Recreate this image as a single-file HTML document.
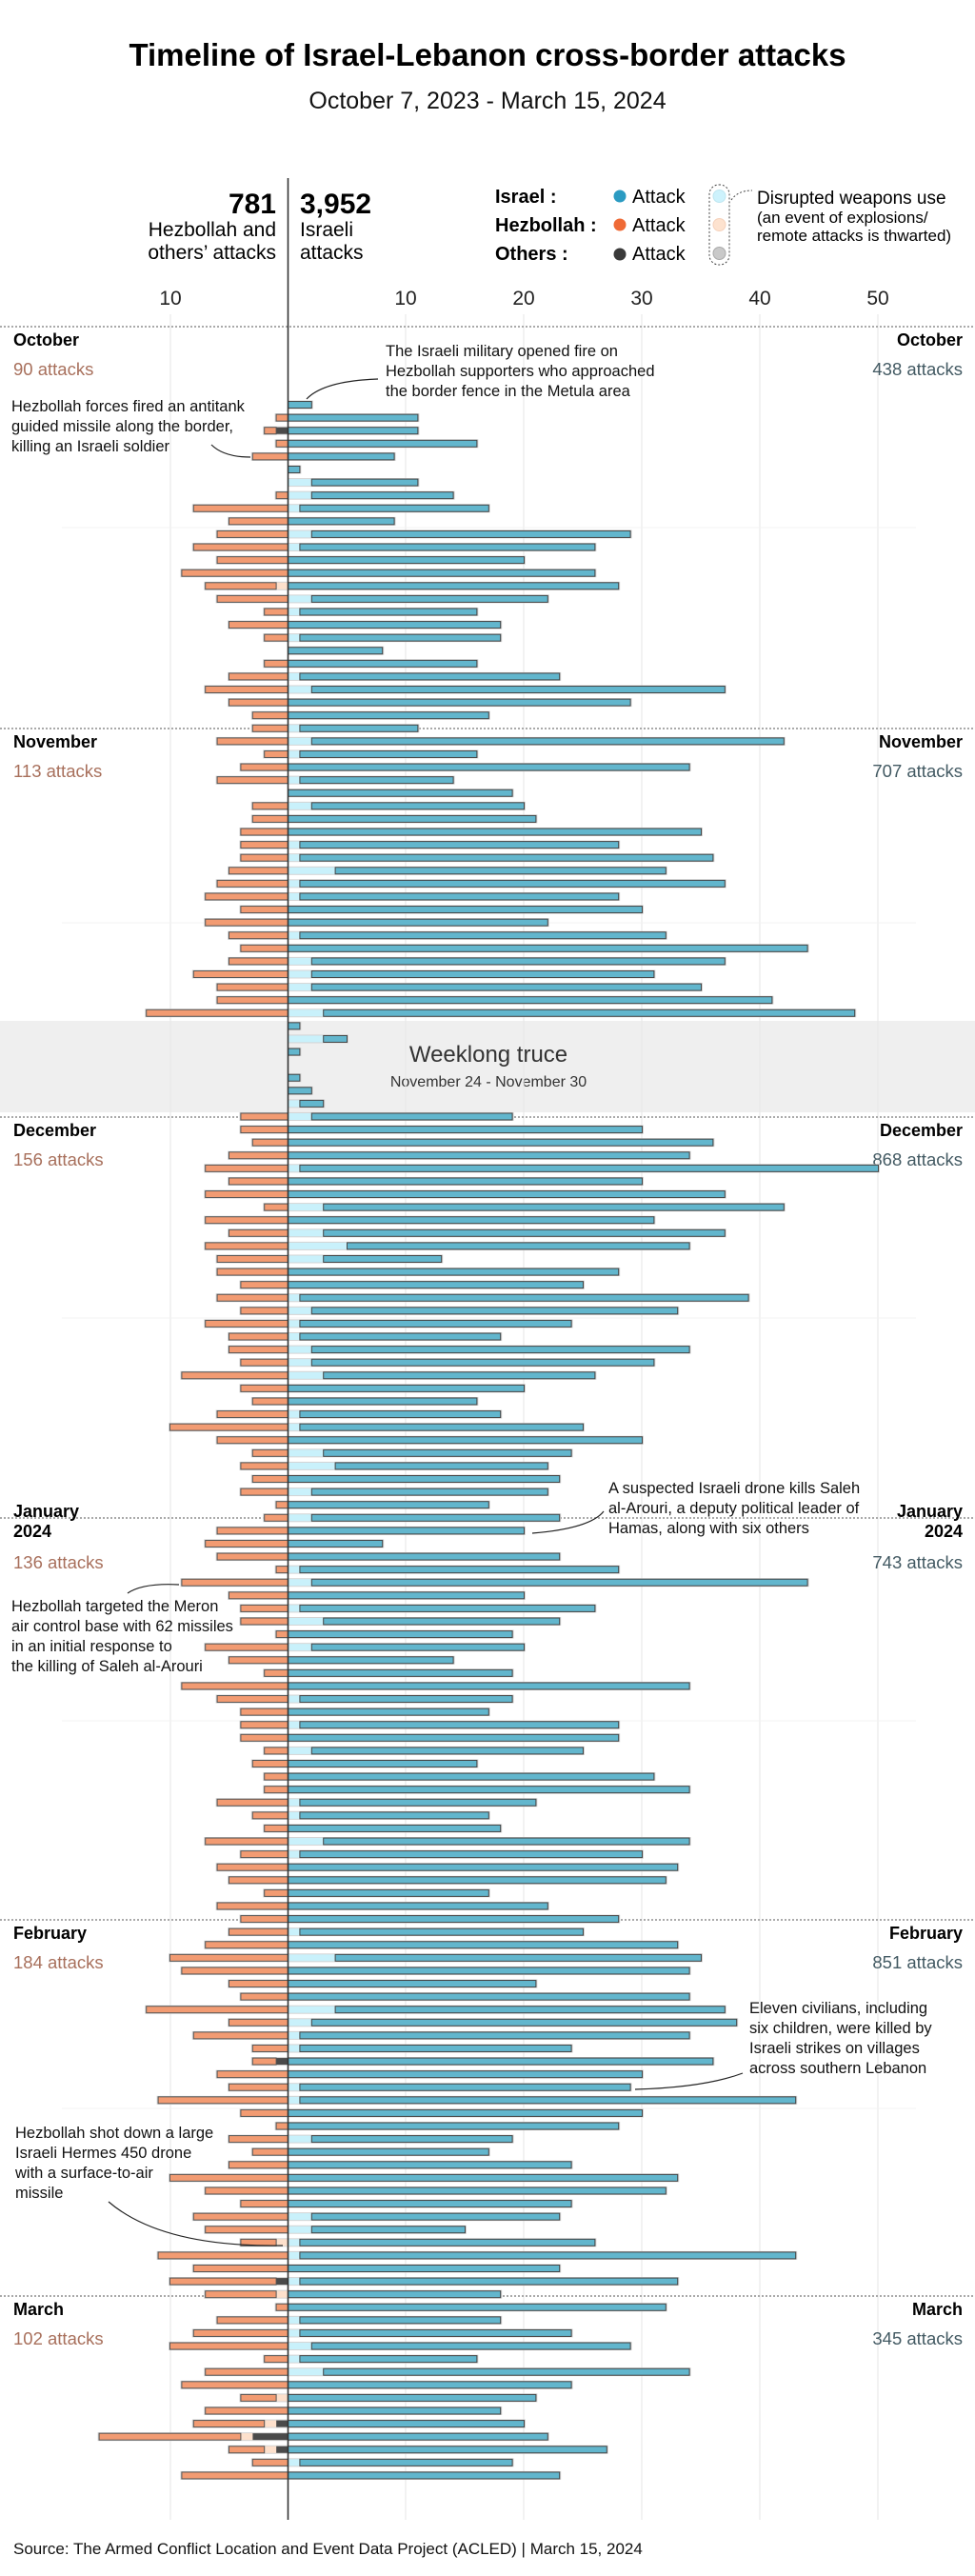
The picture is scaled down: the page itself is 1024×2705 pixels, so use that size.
<!DOCTYPE html>
<html><head><meta charset="utf-8">
<style>
html,body{margin:0;padding:0;background:#fff;}
svg text{font-family:"Liberation Sans",sans-serif;}
</style></head>
<body>
<svg id="c" width="1024" height="2700" viewBox="0 0 1024 2700" xmlns="http://www.w3.org/2000/svg">
<rect width="1024" height="2700" fill="#fff"/>
<text x="512" y="69" text-anchor="middle" font-size="33" font-weight="bold" fill="#000">Timeline of Israel-Lebanon cross-border attacks</text>
<text x="512" y="114" text-anchor="middle" font-size="25" fill="#111">October 7, 2023 - March 15, 2024</text>

<rect x="0" y="1072" width="1024" height="96" fill="#efefef"/>
<text x="513" y="1115" text-anchor="middle" font-size="24" fill="#333">Weeklong truce</text>
<text x="513" y="1141" text-anchor="middle" font-size="16" fill="#333">November 24 - November 30</text>

<g id="grid" stroke="#e8e8e8" stroke-width="1.2">
<line x1="179" y1="330" x2="179" y2="2646"/>
<line x1="426" y1="330" x2="426" y2="2646"/>
<line x1="550" y1="330" x2="550" y2="2646"/>
<line x1="674" y1="330" x2="674" y2="2646"/>
<line x1="798" y1="330" x2="798" y2="2646"/>
<line x1="922" y1="330" x2="922" y2="2646"/>
</g>
<g stroke="#f3f3f3" stroke-width="1">
<line x1="65" y1="554" x2="962" y2="554"/>
<line x1="65" y1="969" x2="962" y2="969"/>
<line x1="65" y1="1384" x2="962" y2="1384"/>
<line x1="65" y1="1807" x2="962" y2="1807"/>
<line x1="65" y1="2214" x2="962" y2="2214"/>
</g>

<g font-size="21" fill="#222" text-anchor="middle">
<text x="179" y="320">10</text>
<text x="426" y="320">10</text>
<text x="550" y="320">20</text>
<text x="674" y="320">30</text>
<text x="798" y="320">40</text>
<text x="922" y="320">50</text>
</g>

<text x="290" y="224" text-anchor="end" font-size="30" font-weight="bold" fill="#000">781</text>
<text x="290" y="248" text-anchor="end" font-size="21" fill="#000">Hezbollah and</text>
<text x="290" y="272" text-anchor="end" font-size="21" fill="#000">others’ attacks</text>
<text x="315" y="224" font-size="30" font-weight="bold" fill="#000">3,952</text>
<text x="315" y="248" font-size="21" fill="#000">Israeli</text>
<text x="315" y="272" font-size="21" fill="#000">attacks</text>

<g fill="#000">
<text x="520" y="213" font-size="20" font-weight="bold">Israel :</text>
<text x="520" y="243" font-size="20" font-weight="bold">Hezbollah :</text>
<text x="520" y="273" font-size="20" font-weight="bold">Others :</text>
<circle cx="651" cy="206" r="6.5" fill="#2b9bc2"/>
<circle cx="651" cy="236" r="6.5" fill="#ef6a36"/>
<circle cx="651" cy="267" r="6.5" fill="#3a3a3a"/>
<text x="664" y="213" font-size="20">Attack</text>
<text x="664" y="243" font-size="20">Attack</text>
<text x="664" y="273" font-size="20">Attack</text>
<rect x="745" y="194" width="21" height="84" rx="10" fill="none" stroke="#444" stroke-dasharray="2,2"/>
<circle cx="755.5" cy="206" r="6.5" fill="#cdf2fc" stroke="#bfe6f0"/>
<circle cx="755.5" cy="236" r="6.5" fill="#fde2cf" stroke="#f5d2bc"/>
<circle cx="755.5" cy="266" r="6.5" fill="#c9c9c9" stroke="#aaa"/>
<path d="M768,210 Q775,200 790,200" fill="none" stroke="#444" stroke-dasharray="2,2"/>
<text x="795" y="214" font-size="19">Disrupted weapons use</text>
<text x="795" y="234" font-size="17">(an event of explosions/</text>
<text x="795" y="253" font-size="17">remote attacks is thwarted)</text>
</g>

<g id="months"></g>
<g id="bars"></g>

<line x1="302.5" y1="187" x2="302.5" y2="2646" stroke="#333" stroke-width="1.6"/>

<g font-size="16.5" fill="#111">
<text x="405" y="374">The Israeli military opened fire on</text>
<text x="405" y="395">Hezbollah supporters who approached</text>
<text x="405" y="416">the border fence in the Metula area</text>
<text x="12" y="432">Hezbollah forces fired an antitank</text>
<text x="12" y="453">guided missile along the border,</text>
<text x="12" y="474">killing an Israeli soldier</text>
<text x="639" y="1568">A suspected Israeli drone kills Saleh</text>
<text x="639" y="1589">al-Arouri, a deputy political leader of</text>
<text x="639" y="1610">Hamas, along with six others</text>
<text x="12" y="1692">Hezbollah targeted the Meron</text>
<text x="12" y="1713">air control base with 62 missiles</text>
<text x="12" y="1734">in an initial response to</text>
<text x="12" y="1755">the killing of Saleh al-Arouri</text>
<text x="787" y="2114">Eleven civilians, including</text>
<text x="787" y="2135">six children, were killed by</text>
<text x="787" y="2156">Israeli strikes on villages</text>
<text x="787" y="2177">across southern Lebanon</text>
<text x="16" y="2245">Hezbollah shot down a large</text>
<text x="16" y="2266">Israeli Hermes 450 drone</text>
<text x="16" y="2287">with a surface-to-air</text>
<text x="16" y="2308">missile</text>
</g>
<g fill="none" stroke="#222" stroke-width="1.2">
<path d="M397,398 Q340,400 322,419"/>
<path d="M222,467 Q235,480 263,480"/>
<path d="M634,1587 Q620,1605 559,1610"/>
<path d="M134,1673 Q150,1662 188,1664"/>
<path d="M780,2177 Q740,2192 667,2194"/>
<path d="M114,2312 Q170,2360 297,2358"/>
</g>

<text x="14" y="2682" font-size="17" fill="#111">Source: The Armed Conflict Location and Event Data Project (ACLED) | March 15, 2024</text>
</svg>
<script>
(function(){
var NS="http://www.w3.org/2000/svg";
var AX=302.5,U=12.4,Y0=343.5,P=13.59,H=7;
var d="2,0,0;11,0,1;11,0,2,0,1;16,0,1;9,0,3;1,0,0;11,2,0;14,2,1;17,1,8;9,0,5;29,2,6;26,1,8;20,0,6;26,0,9;28,0,7,1;22,2,6;16,1,2;18,0,5;18,1,2;8,0,0;16,0,2;23,1,5;37,2,7;29,0,5;17,0,3;"+
"11,1,3;42,2,6;16,1,2;34,0,4;14,1,6;19,0,0;20,2,3;21,0,3;35,0,4;28,1,4;36,1,4;32,4,5;37,1,6;28,1,7;30,0,4;22,0,7;32,1,5;44,0,4;37,2,5;31,2,8;35,2,6;41,0,6;48,3,12;1,0,0;5,3,0;1,0,0;0,0,0;1,0,0;2,0,0;3,1,0;"+
"19,2,4;30,0,4;36,0,3;34,0,5;50,1,7;30,0,5;37,0,7;42,3,2;31,0,7;37,3,5;34,5,7;13,3,6;28,0,6;25,0,4;39,1,6;33,2,4;24,1,7;18,1,5;34,2,5;31,2,4;26,3,9;20,0,4;16,0,3;18,1,6;25,1,10;30,0,6;24,3,3;22,4,4;23,0,3;22,2,4;17,0,1;"+
"23,2,2;20,0,6;8,0,7;23,0,6;28,1,1;44,2,9;20,0,5;26,1,4;23,3,4;19,0,1;20,2,7;14,0,5;19,0,2;34,0,9;19,1,6;17,0,4;28,1,4;28,0,4;25,2,2;16,0,3;31,0,2;34,0,2;21,1,6;17,1,3;18,0,2;34,3,7;30,1,4;33,0,6;32,0,5;17,0,2;22,0,6;"+
"28,0,4;25,1,5;33,0,7;35,4,10;34,0,9;21,0,5;34,0,4;37,4,12;38,2,5;34,1,8;24,1,3;36,0,3,0,1;30,0,6;29,1,5;43,1,11;30,0,4;28,0,1;19,2,5;17,0,3;24,0,5;33,0,10;32,0,7;24,0,4;23,2,8;15,2,7;26,1,4,1;43,1,11;23,0,8;33,1,10,0,1;"+
"18,0,7,1;32,0,1;18,1,6;24,1,8;29,2,10;16,1,2;34,3,7;24,0,9;21,0,4,1;18,0,7;20,0,8,1,1;22,0,16,1,3;27,0,5,1,1;19,1,3;23,0,9";
var rows=d.split(";");
var g=document.getElementById("bars");
function r(x,y,w,h,f,s){if(w<=0)return;var e=document.createElementNS(NS,"rect");e.setAttribute("x",x);e.setAttribute("y",y);e.setAttribute("width",w);e.setAttribute("height",h);e.setAttribute("fill",f);if(s){e.setAttribute("stroke",s);e.setAttribute("stroke-width","1");}g.appendChild(e);}
rows.forEach(function(s,i){
 var v=s.split(",").map(Number);var R=v[0],c=v[1],L=v[2],hd=v[3]||0,o=v[4]||0;
 var y=Y0+(i+6)*P-H/2;
 if(R>0){
  r(AX-0.5,y-1,R*U+2,H+2,"#d4d4d4");
  if(c>0)r(AX,y,c*U,H,"#c9f1fb");
  if(R>c)r(AX+c*U,y,(R-c)*U,H,"#62b6cd","#444");
 }
 if(L>0){
  r(AX-L*U-1.5,y-1,L*U+2,H+2,"#d4d4d4");
  var h=L-hd-o;
  if(o>0)r(AX-o*U,y,o*U,H,"#4a4a4a");
  if(hd>0)r(AX-(o+hd)*U,y,hd*U,H,"#fde0cc");
  if(h>0)r(AX-L*U,y,h*U,H,"#f29b72","#555");
 }
});
var m=document.getElementById("months");
function t(x,y,txt,sz,fill,anc,bold){var e=document.createElementNS(NS,"text");e.setAttribute("x",x);e.setAttribute("y",y);e.setAttribute("font-size",sz);e.setAttribute("fill",fill);if(anc)e.setAttribute("text-anchor",anc);if(bold)e.setAttribute("font-weight","bold");e.textContent=txt;m.appendChild(e);}
var ML=[[343,"October","90 attacks","438 attacks"],[765,"November","113 attacks","707 attacks"],[1173,"December","156 attacks","868 attacks"],[1594,"January","136 attacks","743 attacks"],[2016,"February","184 attacks","851 attacks"],[2411,"March","102 attacks","345 attacks"]];
ML.forEach(function(a,i){
 var l=document.createElementNS(NS,"line");l.setAttribute("x1",0);l.setAttribute("x2",1024);l.setAttribute("y1",a[0]);l.setAttribute("y2",a[0]);l.setAttribute("stroke","#aaa");l.setAttribute("stroke-width","2");l.setAttribute("stroke-dasharray","2,2");m.appendChild(l);
 if(i==3){
  t(14,1593,"January",18,"#000",null,true);t(14,1614,"2024",18,"#000",null,true);
  t(1011,1593,"January",18,"#000","end",true);t(1011,1614,"2024",18,"#000","end",true);
  t(14,1647,a[2],18.5,"#a8705c");t(1011,1647,a[3],18.5,"#435a63","end");
 }else{
  t(14,a[0]+20,a[1],18,"#000",null,true);t(1011,a[0]+20,a[1],18,"#000","end",true);
  t(14,a[0]+51,a[2],18.5,"#a8705c");t(1011,a[0]+51,a[3],18.5,"#435a63","end");
 }
});
})();
</script>
</body></html>
